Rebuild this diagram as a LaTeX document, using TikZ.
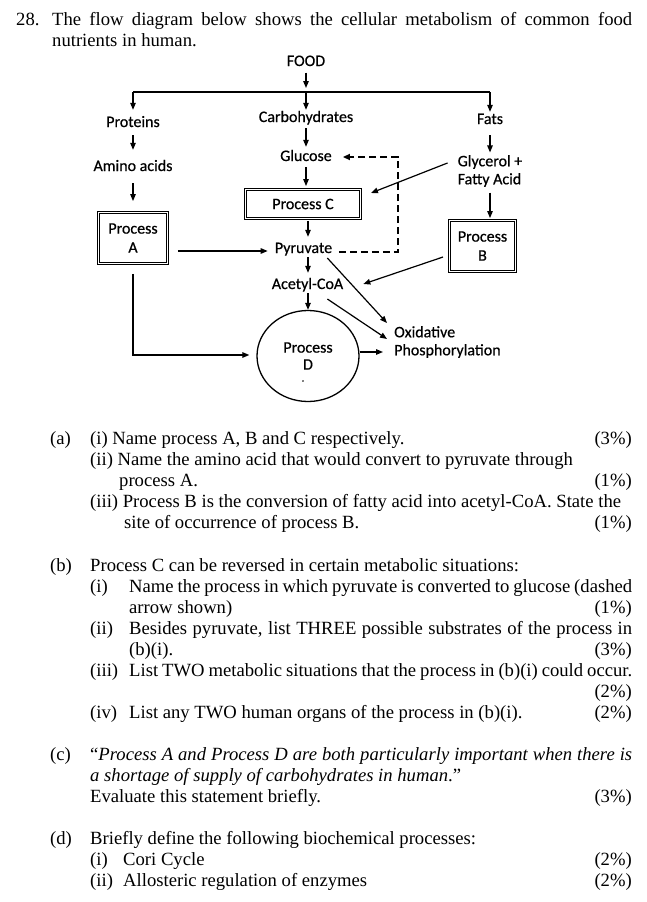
\documentclass[tikz,border=0pt]{standalone}
\usepackage{fontspec}
\setmainfont{Liberation Serif}
\newfontfamily\dfont[FakeBold=0.6]{Carlito}
\usetikzlibrary{arrows.meta,shapes.geometric}
\newcommand\qfont{\fontsize{18.65}{21}\selectfont}
\begin{document}
\begin{tikzpicture}[x=1pt,y=-1pt,
  lbl/.style={inner sep=0pt, font=\dfont\fontsize{16}{18}\selectfont, text height=11.5pt, text depth=3.5pt},
  mlbl/.style={inner sep=0pt, font=\dfont\fontsize{16}{18}\selectfont},
  box/.style={draw, double, double distance=1pt, line width=0.9pt, inner sep=0pt, align=center, font=\dfont\fontsize{16}{19}\selectfont},
  arr/.style={-{Triangle[length=7pt,width=5.5pt]}, line width=1.2pt},
  dsh/.style={-{Triangle[length=7pt,width=6pt]}, line width=2pt, dash pattern=on 7pt off 4pt},
  q/.style={anchor=base west, inner sep=0pt, font=\qfont},
  qr/.style={anchor=base east, inner sep=0pt, font=\qfont}]
\useasboundingbox (0,0) rectangle (647,902);

% ---------- header ----------
\node[q] (n28) at (16,25) {28.};
\node[q] (h1) at (52,25) {\makebox[580pt][s]{The flow diagram below shows the cellular metabolism of common food}};
\node[q] (h2) at (52,46) {nutrients in human.};

% ---------- diagram ----------
\node[lbl] (food) at (306,62) {FOOD};
\coordinate (jc) at (306,92);
\coordinate (jl) at (133,92);
\coordinate (jr) at (490,92);
\node[lbl] (prot) at (133,123) {Proteins};
\node[lbl] (carb) at (306,118) {Carbohydrates};
\node[lbl] (fats) at (490,120) {Fats};
\node[lbl] (amino) at (133,167) {Amino acids};
\node[lbl] (gluc) at (306,157) {Glucose};
\node[mlbl, align=left] (gly) at (490,171) {Glycerol +\\Fatty Acid};
\node[box, minimum width=115pt, minimum height=29pt] (pC) at (303,204) {Process C};
\node[box, minimum width=69pt, minimum height=51pt] (pA) at (133,238) {Process\\A};
\node[box, minimum width=66pt, minimum height=51pt] (pB) at (482.5,246) {Process\\B};
\node[lbl] (pyr) at (303.5,249) {Pyruvate};
\node[lbl] (acet) at (307.5,285) {Acetyl-CoA};
\node[ellipse, draw, line width=1.3pt, minimum width=102pt, minimum height=91pt, inner sep=0pt, align=center, font=\dfont\fontsize{16}{17}\selectfont] (pD) at (308,356) {Process\\D};
\node[inner sep=0pt, font=\dfont\fontsize{10}{10}\selectfont] (dotD) at (303,381) {.};
\node[mlbl, align=left, anchor=west] (ox) at (394,342) {Oxidative\\Phosphorylation};
\coordinate (dcorner) at (398,157);

% connectors
\draw[arr] ([yshift=-3pt]food.south) -- ([yshift=4pt]jc);
\draw[line width=2pt] (jl) -- (jr);
\draw[arr] (jl) -- ([yshift=5.5pt]prot.north);
\draw[arr] (jc) -- ([yshift=0.5pt]carb.north);
\draw[arr] (jr) -- ([yshift=0.5pt]fats.north);
\draw[arr] ([yshift=-4.5pt]prot.south) -- ([yshift=9.5pt]amino.north);
\draw[arr] ([yshift=-8.5pt]amino.south) -- ([yshift=11pt]pA.north);
\draw[arr] ([yshift=-2.5pt]carb.south) -- ([yshift=2.5pt]gluc.north);
\draw[arr] ([yshift=-2.5pt]gluc.south) -- ([yshift=3pt]pC.north -| gluc.south);
\draw[arr] ([xshift=5pt,yshift=-2pt]pC.south) -- ([xshift=4.5pt,yshift=4.5pt]pyr.north);
\draw[arr] ([xshift=4.5pt,yshift=-0.5pt]pyr.south) -- ([xshift=0.5pt,yshift=4.5pt]acet.north);
\draw[arr] ([xshift=0.5pt,yshift=-0.5pt]acet.south) -- (pD.north);
\draw[arr] ([yshift=-7.5pt]fats.south) -- ([yshift=2.5pt]gly.north);
\draw[arr] ([yshift=-5.5pt]gly.south) -- ([yshift=2pt]pB.north -| gly.south);
\draw[arr] ([xshift=-10pt,yshift=8pt]gly.west) -- ([xshift=10pt,yshift=11pt]pC.east);
\draw[arr] ([xshift=-6pt,yshift=-11pt]pB.west) -- ([xshift=20pt,yshift=1pt]acet.east);
\draw[arr] ([xshift=-5pt,yshift=-9pt]pyr.east) -- ([xshift=-7pt,yshift=19pt]ox.west);
\draw[arr] ([xshift=-16pt,yshift=-14pt]acet.east) -- ([xshift=-7pt,yshift=3pt]ox.west);
\draw[arr] ([yshift=4pt]pD.east) -- ([xshift=-11pt,yshift=-10pt]ox.west);
\draw[arr] ([xshift=10pt,yshift=-13pt]pA.east) -- ([xshift=-7pt,yshift=-2pt]pyr.west);
\draw[arr] ([yshift=-10pt]pA.south) |- ([xshift=-7pt,yshift=1pt]pD.west);
\draw[dsh] ([xshift=6.6pt,yshift=-3pt]pyr.east) -| (dcorner) -- ([xshift=11pt]gluc.east);

% ---------- questions ----------
% (a)
\node[q] (a0) at (50,444) {(a)};
\node[q] (a1) at (90,444) {(i) Name process A, B and C respectively.};
\node[qr] (a1m) at (632,444) {(3\%)};
\node[q] (a2) at (90,465) {(ii) Name the amino acid that would convert to pyruvate through};
\node[q] (a3) at (119,486) {process A.};
\node[qr] (a3m) at (632,486) {(1\%)};
\node[q] (a4) at (90,507) {(iii) Process B is the conversion of fatty acid into acetyl-CoA. State the};
\node[q] (a5) at (124,528) {site of occurrence of process B.};
\node[qr] (a5m) at (632,528) {(1\%)};
% (b)
\node[q] (b0) at (50,571) {(b)};
\node[q] (b1) at (90,571) {Process C can be reversed in certain metabolic situations:};
\node[q] (b2l) at (90,592) {(i)};
\node[q] (b2) at (129,592) {\makebox[503pt][s]{Name the process in which pyruvate is converted to glucose (dashed}};
\node[q] (b3) at (129,613) {arrow shown)};
\node[qr] (b3m) at (632,613) {(1\%)};
\node[q] (b4l) at (90,634) {(ii)};
\node[q] (b4) at (129,634) {\makebox[503pt][s]{Besides pyruvate, list THREE possible substrates of the process in}};
\node[q] (b5) at (129,655) {(b)(i).};
\node[qr] (b5m) at (632,655) {(3\%)};
\node[q] (b6l) at (90,676) {(iii)};
\node[q] (b6) at (129,676) {\makebox[503pt][s]{List TWO metabolic situations that the process in (b)(i) could occur.}};
\node[qr] (b7m) at (632,697) {(2\%)};
\node[q] (b8l) at (90,718) {(iv)};
\node[q] (b8) at (129,718) {List any TWO human organs of the process in (b)(i).};
\node[qr] (b8m) at (632,718) {(2\%)};
% (c)
\node[q] (c0) at (50,760) {(c)};
\node[q] (c1) at (90,760) {\makebox[542pt][s]{“\textit{Process A and Process D are both particularly important when there is}}};
\node[q] (c2) at (90,781) {\textit{a shortage of supply of carbohydrates in human}.”};
\node[q] (c3) at (90,802) {Evaluate this statement briefly.};
\node[qr] (c3m) at (632,802) {(3\%)};
% (d)
\node[q] (d0) at (50,844) {(d)};
\node[q] (d1) at (90,844) {Briefly define the following biochemical processes:};
\node[q] (d2l) at (90,865) {(i)};
\node[q] (d2) at (123,865) {Cori Cycle};
\node[qr] (d2m) at (632,865) {(2\%)};
\node[q] (d3l) at (90,886) {(ii)};
\node[q] (d3) at (123,886) {Allosteric regulation of enzymes};
\node[qr] (d3m) at (632,886) {(2\%)};
\end{tikzpicture}
\end{document}
